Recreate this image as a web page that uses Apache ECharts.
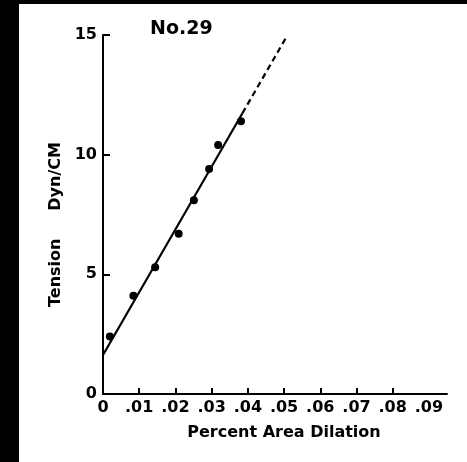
<!DOCTYPE html>
<html>
<head>
<meta charset="utf-8">
<script src="https://cdn.jsdelivr.net/npm/echarts@6/dist/echarts.min.js"></script>
<style>
html, body { margin: 0; padding: 0; background: #000; }
#chart { position: absolute; left: 19px; top: 4px; width: 448px; height: 458px; background: #fff; }
</style>
</head>
<body>
<div id="chart"></div>
<script>
// measured points (percent area dilation vs tension)
var dilation = [0.0019, 0.0084, 0.0144, 0.0209, 0.0251, 0.0293, 0.0318, 0.0381];
var tension = [2.4, 4.1, 5.3, 6.7, 8.1, 9.4, 10.4, 11.4];
// fitted line, solid part and dashed extension
var fitX = [0, 0.0385];
var fitY = [1.63, 11.73];
var extX = [0.0385, 0.0507];
var extY = [11.73, 14.93];
var xTicks = [0, 0.01, 0.02, 0.03, 0.04, 0.05, 0.06, 0.07, 0.08, 0.09];
var yTicks = [0, 5, 10, 15];

function pairs(xs, ys) {
	return xs.map(function(x, i) { return [x, ys[i]]; });
}

var e = echarts.init(document.getElementById("chart"));
var font = "DejaVu Sans";
var a = {
	animation: false,
	title: {
		text: "No.29",
		left: 126,
		top: 11,
		textStyle: { color: "#000", fontFamily: font, fontWeight: "bold", fontSize: 19 }
	},
	grid: { left: 84, top: 31, right: 20, bottom: 68 },
	xAxis: {
		type: "value",
		min: 0,
		max: 0.095,
		interval: 0.01,
		name: "Percent Area Dilation",
		nameLocation: "middle",
		nameGap: 31,
		nameTextStyle: { color: "#000", fontFamily: font, fontWeight: "bold", fontSize: 16, padding: [0, 0, 0, 18] },
		axisLine: { lineStyle: { color: "#000", width: 2 } },
		axisTick: { inside: true, length: 6, lineStyle: { color: "#000", width: 2 }, customValues: xTicks.slice(1, 9) },
		axisLabel: {
			color: "#000", fontFamily: font, fontWeight: "bold", fontSize: 16, margin: 6,
			customValues: xTicks,
			formatter: function(v) { return v === 0 ? "0" : v.toFixed(2).replace(/^0/, ""); }
		},
		splitLine: { show: false }
	},
	yAxis: {
		type: "value",
		min: 0,
		max: 15,
		interval: 5,
		name: "Tension     Dyn/CM",
		nameLocation: "middle",
		nameGap: 38,
		nameTextStyle: { color: "#000", fontFamily: font, fontWeight: "bold", fontSize: 16, padding: [0, 20, 0, 0] },
		axisLine: { lineStyle: { color: "#000", width: 2 } },
		axisTick: { inside: true, length: 7, lineStyle: { color: "#000", width: 2 }, customValues: yTicks.slice(1) },
		axisLabel: { color: "#000", fontFamily: font, fontWeight: "bold", fontSize: 16, margin: 6, customValues: yTicks },
		splitLine: { show: false }
	},
	series: [{
		type: "line",
		data: pairs(fitX, fitY),
		showSymbol: false,
		lineStyle: { color: "#000", width: 2.2 }
	}, {
		type: "line",
		data: pairs(extX, extY),
		showSymbol: false,
		lineStyle: { color: "#000", width: 2.2, type: [6, 4] }
	}, {
		type: "scatter",
		data: pairs(dilation, tension),
		symbolSize: 8,
		itemStyle: { color: "#000", opacity: 1 }
	}]
};
e.setOption(a);
window.addEventListener("resize", e.resize);
</script>
</body>
</html>
